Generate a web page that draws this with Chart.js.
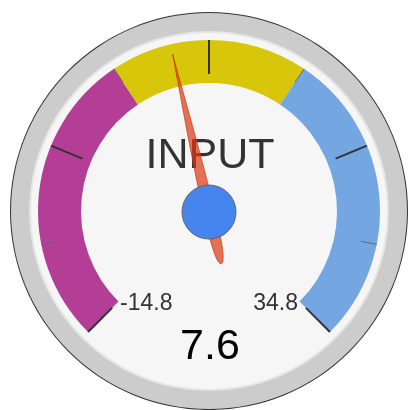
<!DOCTYPE html>
<html>
<head>
<meta charset="utf-8">
<script src="https://cdn.jsdelivr.net/npm/chart.js@4.4.1/dist/chart.umd.min.js"></script>
<style>
  html, body { margin: 0; padding: 0; background: #fff; }
  canvas { display: block; }
</style>
</head>
<body>
<canvas id="gauge" width="409" height="410"></canvas>
<script>
const gaugeLabel = "INPUT";
const gaugeValue = 7.6;
const rangeNames = ["low", "mid", "high"];
const rangeBounds = [-14.8, 3.8, 16.2, 34.8];
const rangeColors = ["#b43e96", "#d8c60a", "#74a7e2"];
const majorTickCount = 5;
const minorTicksPerStep = 2;

const FONT = 'Arial, "Liberation Sans", sans-serif';
const minValue = rangeBounds[0];
const maxValue = rangeBounds[rangeBounds.length - 1];
const rangeSizes = rangeBounds.slice(1).map((b, i) => b - rangeBounds[i]);

// bezel, face, ticks, labels, needle and hub drawn around the doughnut arcs
const gaugeParts = {
  id: "gaugeParts",
  beforeDatasetsDraw(chart) {
    const arc = chart.getDatasetMeta(0).data[0];
    const { x, y, outerRadius } = arc;
    const k = outerRadius / 171;
    const ctx = chart.ctx;
    ctx.save();
    ctx.beginPath();
    ctx.arc(x, y, 199 * k, 0, Math.PI * 2);
    ctx.fillStyle = "#333";
    ctx.fill();
    ctx.beginPath();
    ctx.arc(x, y, 198 * k, 0, Math.PI * 2);
    ctx.fillStyle = "#cccccc";
    ctx.fill();
    ctx.beginPath();
    ctx.arc(x, y, 180 * k, 0, Math.PI * 2);
    ctx.fillStyle = "#e6e6e6";
    ctx.fill();
    ctx.beginPath();
    ctx.arc(x, y, 178 * k, 0, Math.PI * 2);
    ctx.fillStyle = "#f6f6f6";
    ctx.fill();
    ctx.restore();
  },
  afterDatasetsDraw(chart) {
    const arcs = chart.getDatasetMeta(0).data;
    const { x, y, outerRadius } = arcs[0];
    const k = outerRadius / 171;
    const a0 = arcs[0].startAngle;
    const a1 = arcs[arcs.length - 1].endAngle;
    const angleOf = (v) => a0 + ((v - minValue) / (maxValue - minValue)) * (a1 - a0);
    const ctx = chart.ctx;
    ctx.save();

    // ticks
    const steps = (majorTickCount - 1) * minorTicksPerStep;
    for (let i = 0; i <= steps; i++) {
      const a = a0 + (i / steps) * (a1 - a0);
      const major = i % minorTicksPerStep === 0;
      const rIn = (major ? 137 : 155) * k;
      const rOut = 171 * k;
      ctx.beginPath();
      ctx.moveTo(x + rIn * Math.cos(a), y + rIn * Math.sin(a));
      ctx.lineTo(x + rOut * Math.cos(a), y + rOut * Math.sin(a));
      ctx.strokeStyle = major ? "#333" : "#666";
      ctx.lineWidth = major ? 2 : 1;
      ctx.stroke();
    }

    // texts
    ctx.fillStyle = "#333";
    ctx.textAlign = "center";
    ctx.textBaseline = "alphabetic";
    ctx.font = 43 * k + "px " + FONT;
    ctx.fillText(gaugeLabel, x + 1, y - 43 * k);
    ctx.font = 23 * k + "px " + FONT;
    ctx.textAlign = "left";
    ctx.fillText(String(minValue), x - 89 * k, y + 99 * k);
    ctx.textAlign = "right";
    ctx.fillText(String(maxValue), x + 89 * k, y + 99 * k);
    ctx.fillStyle = "#000";
    ctx.textAlign = "center";
    ctx.font = 43 * k + "px " + FONT;
    ctx.fillText(String(gaugeValue), x + 1, y + 148 * k);

    // needle
    ctx.save();
    ctx.translate(x, y);
    ctx.rotate(angleOf(gaugeValue) + Math.PI / 2);
    ctx.beginPath();
    ctx.moveTo(0, -161 * k);
    ctx.bezierCurveTo(2 * k, -110 * k, 6 * k, -40 * k, 5.5 * k, 20 * k);
    ctx.quadraticCurveTo(5 * k, 54 * k, 0, 54 * k);
    ctx.quadraticCurveTo(-5 * k, 54 * k, -5.5 * k, 20 * k);
    ctx.bezierCurveTo(-6 * k, -40 * k, -2 * k, -110 * k, 0, -161 * k);
    ctx.closePath();
    ctx.fillStyle = "rgba(220, 57, 18, 0.7)";
    ctx.fill();
    ctx.strokeStyle = "rgba(198, 51, 16, 0.8)";
    ctx.lineWidth = 0.8;
    ctx.stroke();
    ctx.restore();

    // hub
    ctx.beginPath();
    ctx.arc(x, y + 1, 27 * k, 0, Math.PI * 2);
    ctx.fillStyle = "#4684ee";
    ctx.fill();
    ctx.strokeStyle = "#666";
    ctx.lineWidth = 1;
    ctx.stroke();

    ctx.restore();
  },
};

new Chart(document.getElementById("gauge"), {
  type: "doughnut",
  data: {
    labels: rangeNames,
    datasets: [
      {
        data: rangeSizes,
        backgroundColor: rangeColors,
        borderWidth: 0,
      },
    ],
  },
  options: {
    responsive: false,
    animation: false,
    events: [],
    circumference: 270,
    rotation: -135,
    radius: 171,
    cutout: "74.85%",
    layout: { padding: { left: 9, right: 0, top: 0, bottom: 38 } },
    plugins: {
      legend: { display: false },
      tooltip: { enabled: false },
    },
  },
  plugins: [gaugeParts],
});
</script>
</body>
</html>
